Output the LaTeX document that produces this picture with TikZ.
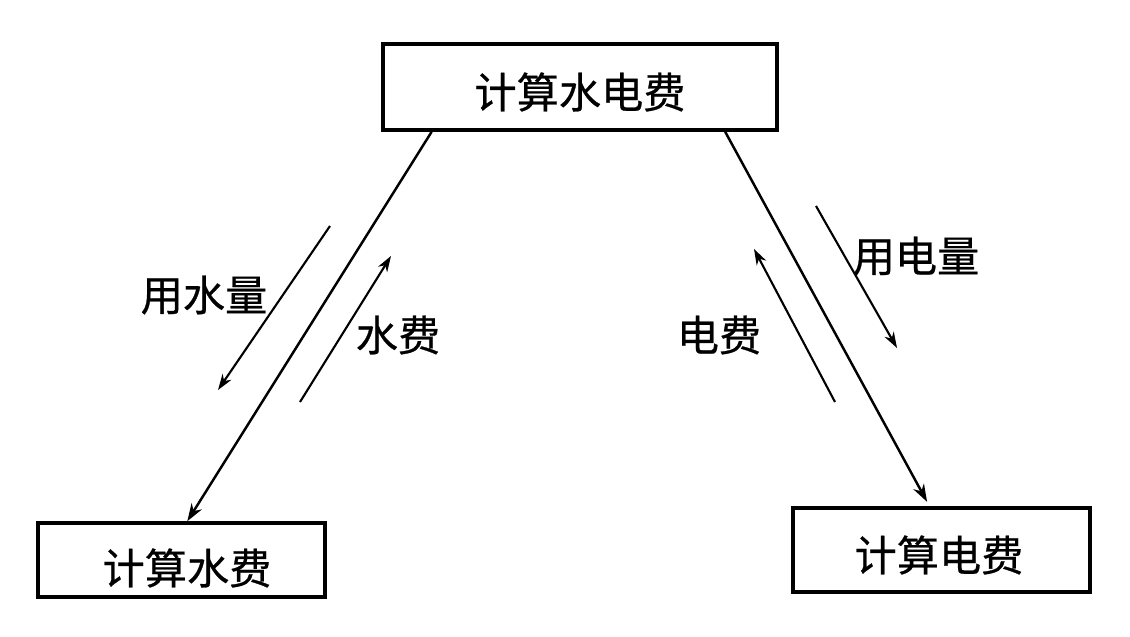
\documentclass[tikz,border=0pt]{standalone}
\usepackage{fontspec}
\newfontfamily\cjk{Noto Sans CJK SC}[UprightFeatures={FakeBold=0.6}]
\usetikzlibrary{arrows.meta,calc}

\begin{document}
\begin{tikzpicture}[
    x=0.01cm, y=-0.01cm,
    box/.style={draw, line width=1pt, inner sep=0pt, font=\cjk\fontsize{12}{14}\selectfont},
    lbl/.style={font=\cjk\fontsize{12}{14}\selectfont, inner sep=0pt},
    arr/.style={-{Stealth[length=5pt,width=3.4pt,inset=1.6pt]}, line width=0.7pt},
    sarr/.style={-{Stealth[length=4.5pt,width=3pt,inset=1.4pt]}, line width=0.6pt},
  ]
    \useasboundingbox (0,0) rectangle (1130,637);

    \node[box, minimum width=3.94cm, minimum height=0.86cm] (total) at (580,87) {};
    \node[box, minimum width=2.87cm, minimum height=0.74cm] (water) at (181.5,560) {};
    \node[box, minimum width=2.97cm, minimum height=0.84cm] (elec) at (941.5,550) {};
    \node[box, draw=none] at (580,92) {计算水电费};
    \node[box, draw=none] at (187,568) {计算水费};
    \node[box, draw=none] at (939,555) {计算电费};

    % main links
    \coordinate (tw) at ($(total.south west)!0.127!(total.south east)$);
    \coordinate (te) at ($(total.south west)!0.865!(total.south east)$);
    \coordinate (wn) at ($(water.north west)!0.52!(water.north east)$);
    \coordinate (en) at ($(elec.north west)!0.46!(elec.north east)$);
    \draw[arr] (tw) -- (wn);
    \draw[arr, shorten >=0.05cm] (te) -- (en);

    % flows
    \coordinate (a1) at (330,226); \coordinate (a2) at (218,390);
    \coordinate (b1) at (300,402); \coordinate (b2) at (391,256);
    \coordinate (c1) at (835,402); \coordinate (c2) at (754,249);
    \coordinate (d1) at (816,206); \coordinate (d2) at (897,348);
    \draw[sarr] (a1) -- (a2);
    \draw[sarr] (b1) -- (b2);
    \draw[sarr] (c1) -- (c2);
    \draw[sarr] (d1) -- (d2);

    \node[lbl] (usew) at (204,295) {用水量};
    \node[lbl] (feew) at (398,335) {水费};
    \node[lbl] (feee) at (719,335) {电费};
    \node[lbl] (usee) at (916,256) {用电量};
  \end{tikzpicture}
\end{document}
